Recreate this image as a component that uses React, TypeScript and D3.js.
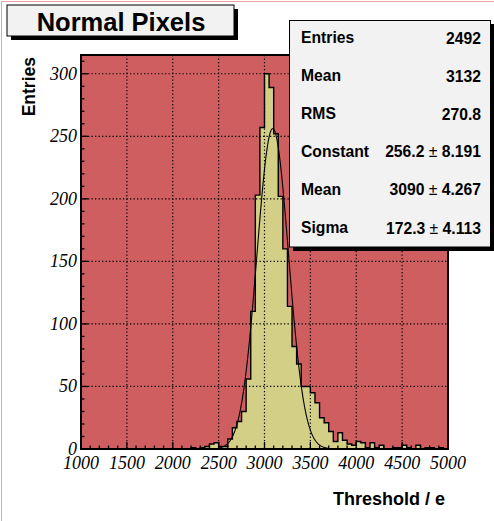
import React from "react";
import * as d3 from "d3";

// ---- data ----
const binLow = 1000;
const binWidth = 50;
const counts = [
  0, 0, 0, 0, 0, 0, 0, 0, 0, 0, // 1000-1450
  0, 0, 0, 0, 0, 0, 0, 0, 0, 0, // 1500-1950
  0, 0, 0, 0, 1, 0, 1, 2, 4, 5, // 2000-2450
  2, 2, 8, 17, 22, 30, 56, 110, 203, 257, // 2500-2950
  300, 289, 252, 202, 160, 114, 82, 68, 50, 50, // 3000-3450
  45, 37, 25, 21, 14, 6, 13, 7, 4, 3, // 3500-3950
  6, 5, 1, 5, 1, 3, 0, 0, 1, 1, // 4000-4450
  3, 1, 0, 3, 0, 1, 1, 0, 1, 0, // 4500-4950
];
const xTickValues = [1000, 1500, 2000, 2500, 3000, 3500, 4000, 4500, 5000];
const yTickValues = [0, 50, 100, 150, 200, 250, 300];
const statsLabels = ["Entries", "Mean", "RMS", "Constant", "Mean", "Sigma"];
const statsValues = ["2492", "3132", "270.8", "256.2 ± 8.191", "3090 ± 4.267", "172.3 ± 4.113"];
const fitConstant = 256.2;
const fitMean = 3090;
const fitSigma = 172.3;
const fitRange = [2500, 3700];
const titleText = "Normal Pixels";
const xTitle = "Threshold / e";
const yTitle = "Entries";

// ---- layout ----
const W = 494;
const H = 521;
const frame = { left: 81, right: 448, top: 55, bottom: 449 };
const FRAME_FILL = "rgb(207,94,97)";
const HIST_FILL = "rgb(212,207,135)";

export default function App() {
  const x = d3.scaleLinear().domain([1000, 5000]).range([frame.left, frame.right]);
  const y = d3.scaleLinear().domain([0, 315]).range([frame.bottom, frame.top]);

  // histogram step path
  let hp = `M${x(binLow)},${y(0)}`;
  counts.forEach((c, i) => {
    const lo = binLow + i * binWidth;
    const hi = lo + binWidth;
    hp += `L${x(lo)},${y(c)}L${x(hi)},${y(c)}`;
  });
  hp += `L${x(binLow + counts.length * binWidth)},${y(0)}Z`;

  const gaussPts = d3.range(fitRange[0], fitRange[1] + 1, 5).map((v) => [
    v,
    fitConstant * Math.exp(-0.5 * ((v - fitMean) / fitSigma) ** 2),
  ]);
  const line = d3
    .line<number[]>()
    .x((d) => x(d[0]))
    .y((d) => y(d[1]))
    .curve(d3.curveLinear);

  const xMinor = d3.range(1000, 5001, 100);
  const yMinor = d3.range(0, 311, 10);

  const sansBold = "'Liberation Sans', Arial, Helvetica, sans-serif";
  const serif = "'Liberation Serif', 'Times New Roman', serif";

  return (
    <svg
      width={W}
      height={H}
      style={{ position: "absolute", left: 0, top: 0, background: "#ffffff" }}
    >
      <rect x={0} y={0} width={W} height={H} fill="#ffffff" />
      {/* canvas border */}
      <line x1={1.5} y1={1.5} x2={W} y2={1.5} stroke="#e6a5a5" strokeWidth={1} />
      <line x1={1.5} y1={1.5} x2={1.5} y2={H} stroke="#e6a5a5" strokeWidth={1} />

      {/* frame fill */}
      <rect
        x={frame.left}
        y={frame.top}
        width={frame.right - frame.left}
        height={frame.bottom - frame.top}
        fill={FRAME_FILL}
      />

      {/* histogram */}
      <path d={hp} fill={HIST_FILL} stroke="#000" strokeWidth={1.4} strokeLinejoin="miter" />

      {/* grid */}
      {xTickValues.slice(1, -1).map((v) => (
        <line
          key={"gx" + v}
          x1={x(v)}
          x2={x(v)}
          y1={frame.top}
          y2={frame.bottom}
          stroke="#000"
          strokeWidth={1.2}
          strokeDasharray="1.3,2.2"
        />
      ))}
      {yTickValues.slice(1).map((v) => (
        <line
          key={"gy" + v}
          x1={frame.left}
          x2={frame.right}
          y1={y(v)}
          y2={y(v)}
          stroke="#000"
          strokeWidth={1.2}
          strokeDasharray="1.3,2.2"
        />
      ))}

      {/* fit */}
      <path d={line(gaussPts) || ""} fill="none" stroke="#000" strokeWidth={1.1} />

      {/* ticks */}
      {xMinor.map((v) => {
        const major = v % 500 === 0;
        return (
          <line
            key={"tx" + v}
            x1={x(v)}
            x2={x(v)}
            y1={frame.bottom}
            y2={frame.bottom - (major ? 7 : 3.5)}
            stroke="#000"
            strokeWidth={1.3}
          />
        );
      })}
      {yMinor.map((v) => {
        const major = v % 50 === 0;
        return (
          <line
            key={"ty" + v}
            x1={frame.left}
            x2={frame.left + (major ? 7 : 3.5)}
            y1={y(v)}
            y2={y(v)}
            stroke="#000"
            strokeWidth={1.3}
          />
        );
      })}

      {/* frame border */}
      <rect
        x={frame.left}
        y={frame.top}
        width={frame.right - frame.left}
        height={frame.bottom - frame.top}
        fill="none"
        stroke="#000"
        strokeWidth={2}
      />

      {/* tick labels */}
      {xTickValues.map((v) => (
        <text
          key={"lx" + v}
          x={x(v)}
          y={469}
          textAnchor="middle"
          fontFamily={serif}
          fontStyle="italic"
          fontSize={18}
          fill="#000"
        >
          {v}
        </text>
      ))}
      {yTickValues.map((v) => (
        <text
          key={"ly" + v}
          x={77}
          y={y(v) + 6}
          textAnchor="end"
          fontFamily={serif}
          fontStyle="italic"
          fontSize={18}
          fill="#000"
        >
          {v}
        </text>
      ))}

      {/* axis titles */}
      <text
        x={445}
        y={505}
        textAnchor="end"
        fontFamily={sansBold}
        fontWeight="bold"
        fontSize={18}
        fill="#000"
      >
        {xTitle}
      </text>
      <text
        transform="translate(35,57) rotate(-90)"
        textAnchor="end"
        fontFamily={sansBold}
        fontWeight="bold"
        fontSize={17.5}
        fill="#000"
      >
        {yTitle}
      </text>

      {/* title box */}
      <rect x={11} y={9} width={227} height={31} fill="#000" />
      <rect x={7} y={5} width={227} height={31} fill="#f2f2f2" stroke="#000" strokeWidth={1} />
      <text
        x={121}
        y={30.5}
        textAnchor="middle"
        fontFamily={sansBold}
        fontWeight="bold"
        fontSize={25.5}
        fill="#000"
      >
        {titleText}
      </text>

      {/* stats box */}
      <rect x={293} y={24} width={201} height={227} fill="#000" />
      <rect x={289.5} y={20.5} width={201} height={226.5} fill="#f2f2f2" stroke="#000" strokeWidth={1} />
      {statsLabels.map((l, i) => {
        const by = 42.5 + i * 38.1;
        const parts = statsValues[i].split(" ± ");
        return (
          <g key={"s" + i}>
            <text
              x={301}
              y={by}
              fontFamily={sansBold}
              fontWeight="bold"
              fontSize={15.7}
              fill="#000"
            >
              {l}
            </text>
            <text
              x={481}
              y={by + (i < 3 ? 1.5 : 0.5)}
              textAnchor="end"
              fontFamily={sansBold}
              fontWeight="bold"
              fontSize={15.7}
              fill="#000"
            >
              {parts.length > 1 ? (
                <>
                  <tspan>{parts[0]}</tspan>
                  <tspan fontWeight="normal">{" ± "}</tspan>
                  <tspan>{parts[1]}</tspan>
                </>
              ) : (
                parts[0]
              )}
            </text>
          </g>
        );
      })}
    </svg>
  );
}
